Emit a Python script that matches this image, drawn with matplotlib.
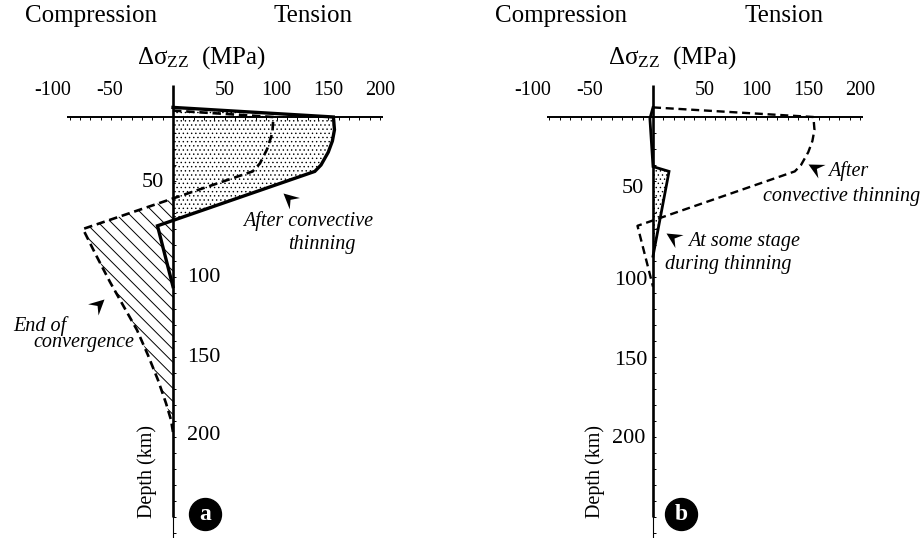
import numpy as np
import matplotlib
matplotlib.use("Agg")
import matplotlib.pyplot as plt
from matplotlib.path import Path
from matplotlib.markers import MarkerStyle
from matplotlib.transforms import Affine2D
from matplotlib.collections import LineCollection

plt.rcParams['font.family'] = ['Liberation Serif', 'DejaVu Serif']
plt.rcParams['mathtext.fontset'] = 'custom'
plt.rcParams['mathtext.rm'] = 'Liberation Serif'
plt.rcParams['mathtext.it'] = 'Liberation Serif:italic'
plt.rcParams['hatch.linewidth'] = 0.5

# ---------------- data (stress in MPa, depth in km) ----------------
after_stress = [0, 155, 156, 154, 150, 143, 137, -15, 0]
after_depth = [-6, 0, 8, 15, 22, 30, 34, 68, 106]

conv_stress = [0, 97, 96, 91, 84, 77, -87, -74.4, -60.9, -47.3, -34.8, -24.2, -14.5, -6.8, -1.9, 0]
conv_depth = [-4, 0, 10, 20, 29, 34, 70, 86.3, 103.1, 118.8, 133.1, 148.8, 164.4, 178.8, 189.4, 197]

stage_stress = [0, -3, 0, 15.5, 0]
stage_depth = [-6, 1, 31, 34, 87]

x_tick_values = [-100, -50, 50, 100, 150, 200]
depth_tick_values = [50, 100, 150, 200]

# ---------------- layout ----------------
W, H = 924, 538
SX, SY = 1.035, 1.6      # px per MPa, px per km
Y0 = 117                 # pixel row of depth 0

fig = plt.figure(figsize=(W / 100, H / 100), dpi=100)


def make_ax(x0):
    ax = fig.add_axes([0, 0, 1, 1])
    ax.set_xlim(-x0 / SX, (W - x0) / SX)
    ax.set_ylim((H - Y0) / SY, -Y0 / SY)
    ax.axis('off')
    ax.patch.set_alpha(0)
    return ax


def P(x0, px, py):
    return (px - x0) / SX, (py - Y0) / SY


def arrowhead(ax, x, y, angle):
    verts = [(0, 0), (-1, 0.5), (-0.62, 0), (-1, -0.5), (0, 0)]
    codes = [Path.MOVETO, Path.LINETO, Path.LINETO, Path.LINETO, Path.CLOSEPOLY]
    mk = MarkerStyle(Path(verts, codes), transform=Affine2D().rotate_deg(angle))
    ax.plot([x], [y], marker=mk, ms=22, color='k', mew=0, zorder=6)


def draw_axes(ax, x0, depth_labels, tick_fs=14.5):
    # horizontal stress axis
    ax.plot([-102, 203], [0, 0], color='k', lw=1.4, zorder=5, solid_capstyle='butt')
    xt = [v for v in np.arange(-100, 201, 10) if v != 0]
    ax.vlines(xt, 0, 2.0, color='k', lw=0.7, zorder=5)
    # vertical depth axis
    ax.plot([0, 0], [-20, 250], color='k', lw=1.9, zorder=5, solid_capstyle='butt')
    ax.plot([0, 0], [250, 263], color='k', lw=0.8, zorder=5)
    yt = np.arange(10, 261, 10)
    ax.hlines(yt, 0, 3.0, color='k', lw=0.7, zorder=5)
    # stress tick labels
    for v in x_tick_values:
        ax.text(v + (1.5 if v < 0 else 0), -13.8, str(v), ha='right' if v < 0 else 'center',
                va='baseline', fontsize=tick_fs)
    # depth labels
    for v, (xx, yy, ha) in zip(depth_tick_values, depth_labels):
        ax.text(xx, yy, str(v), ha=ha, va='baseline', fontsize=16)


def headings(ax, x0, comp_px, tens_px, delta_px):
    ax.text(*P(x0, comp_px, 22), 'Compression', ha='left', va='baseline', fontsize=18)
    ax.text(*P(x0, tens_px, 22), 'Tension', ha='left', va='baseline', fontsize=18)
    ax.text(*P(x0, delta_px, 64), r'$\mathrm{\Delta\sigma_{ZZ}}$  (MPa)', ha='left',
            va='baseline', fontsize=18)


def panel_badge(ax, x0, px, letter):
    bx, by = P(x0, px, 514)
    ax.plot([bx], [by], 'o', ms=23, color='k', zorder=6)
    ax.text(bx, by, letter, color='white', fontweight='bold', fontsize=17,
            ha='center', va='center', zorder=7)


# ================= panel a =================
xa = 173
axa = make_ax(xa)
sa = np.array(after_stress)
da = np.array(after_depth)
sc = np.array(conv_stress)
dc = np.array(conv_depth)

axa.fill_betweenx(da, 0, sa, where=sa >= 0, interpolate=True, facecolor='none',
                  edgecolor='k', lw=0, hatch='....', zorder=1)
hatch_poly = axa.fill_betweenx(dc, 0, sc, where=sc < 0, interpolate=True,
                               facecolor='none', edgecolor='none', lw=0, zorder=1)
clip_path = max(hatch_poly.get_paths(), key=lambda p: len(p.vertices))
k = SX / SY
segs = []
for c in np.arange(-300, 120, 12.6):
    m = np.array([-140.0, 40.0])
    segs.append(list(zip(m, k * (m - c))))
lc = LineCollection(segs, colors='k', linewidths=0.7, zorder=2)
axa.add_collection(lc)
lc.set_clip_path(clip_path, axa.transData)

axa.plot(sc, dc, color='k', lw=1.9, ls=(0, (3.2, 1.8)), zorder=4)
axa.plot(sa, da, color='k', lw=2.4, zorder=4, solid_joinstyle='miter')

draw_axes(axa, xa, [(-8.5, 43.5, 'right'), (14, 103, 'left'),
                    (14, 153, 'left'), (14, 202, 'left')])
headings(axa, xa, 25, 273, 137)

axa.text(*P(xa, 243, 226), 'After convective', style='italic', fontsize=14.5, va='baseline')
axa.text(*P(xa, 288, 249), 'thinning', style='italic', fontsize=14.5, va='baseline')
arrowhead(axa, *P(xa, 283, 193), 138)

axa.text(*P(xa, 13, 331), 'End of', style='italic', fontsize=14.5, va='baseline')
axa.text(*P(xa, 33, 347), 'convergence', style='italic', fontsize=14.5, va='baseline')
arrowhead(axa, *P(xa, 104, 299), 43)

axa.text(*P(xa, 147, 471), 'Depth (km)', rotation=90, ha='center', va='center', fontsize=14.5)
panel_badge(axa, xa, 205, 'a')

# ================= panel b =================
xb = 653
axb = make_ax(xb)
ss = np.array(stage_stress)
ds = np.array(stage_depth)

axb.fill_betweenx(ds, 0, ss, where=ss >= 0, interpolate=True, facecolor='none',
                  edgecolor='k', lw=0, hatch='....', zorder=1)
axb.plot(sa, da, color='k', lw=1.7, ls=(0, (3.4, 2.0)), zorder=4)
axb.plot(ss, ds, color='k', lw=2.0, zorder=4, solid_joinstyle='miter')

draw_axes(axb, xb, [(-9, 47.5, 'right'), (-5, 105, 'right'),
                    (-5.5, 155, 'right'), (-7.5, 204, 'right')])
headings(axb, xb, 495, 745, 608)

axb.text(*P(xb, 828, 176), 'After', style='italic', fontsize=14.5, va='baseline')
axb.text(*P(xb, 763, 201), 'convective thinning', style='italic', fontsize=14.5, va='baseline')
arrowhead(axb, *P(xb, 808, 164), 152)

axb.text(*P(xb, 688, 246), 'At some stage', style='italic', fontsize=14.5, va='baseline')
axb.text(*P(xb, 665, 269), 'during thinning', style='italic', fontsize=14.5, va='baseline')
arrowhead(axb, *P(xb, 666, 233), 148)

axb.text(*P(xb, 595, 471), 'Depth (km)', rotation=90, ha='center', va='center', fontsize=14.5)
panel_badge(axb, xb, 681, 'b')

fig.savefig('out.png', dpi=100)
